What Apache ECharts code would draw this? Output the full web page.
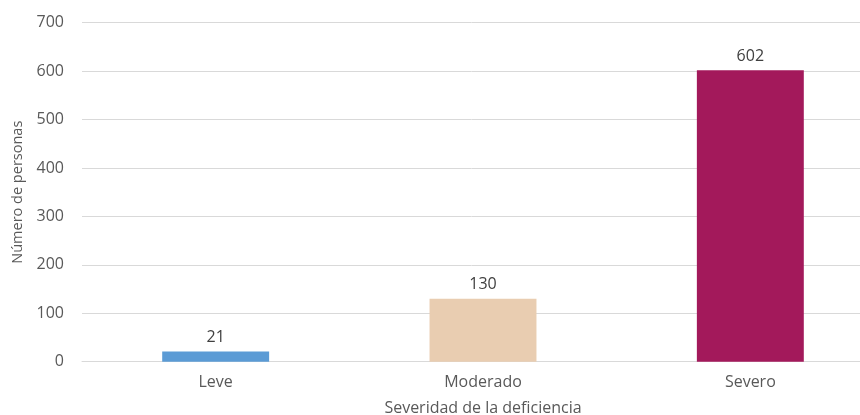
<!DOCTYPE html>
<html><head><meta charset="utf-8">
<script src="https://cdn.jsdelivr.net/npm/echarts@6/dist/echarts.min.js"></script>
<style>html,body{margin:0;padding:0;background:#fff}#c{width:860px;height:415px}</style>
</head><body><div id="c"></div>
<script>
var categories = ['Leve', 'Moderado', 'Severo'];
var values = [21, 130, 602];
var colors = ['#5B9BD5', '#E9CDB1', '#A3195B'];
var yTicks = [0, 100, 200, 300, 400, 500, 600, 700];

var chart = echarts.init(document.getElementById('c'));
var font = 'Open Sans';
var txt = { color: '#595959', fontSize: 16, fontFamily: font };
chart.setOption({
  animation: false,
  grid: { left: 82, right: -24, top: 22.7, bottom: 53.3, containLabel: false, outerBoundsMode: 'none' },
  xAxis: {
    type: 'category', data: categories,
    name: 'Severidad de la deficiencia', nameLocation: 'middle', nameGap: 39,
    nameTextStyle: txt,
    axisLine: { show: true, lineStyle: { color: '#d9d9d9' } },
    axisTick: { show: false },
    axisLabel: Object.assign({ margin: 13 }, txt)
  },
  yAxis: {
    type: 'value', min: yTicks[0], max: yTicks[yTicks.length - 1], interval: 100,
    name: 'Número de personas', nameLocation: 'middle', nameGap: 57,
    nameTextStyle: { color: '#595959', fontSize: 14.5, fontFamily: font },
    axisLine: { show: false }, axisTick: { show: false },
    axisLabel: Object.assign({ margin: 18 }, txt),
    splitLine: { lineStyle: { color: '#d9d9d9' } }
  },
  series: [{
    type: 'bar', barWidth: '40%',
    data: values.map(function (v, i) { return { value: v, itemStyle: { color: colors[i] } }; }),
    label: { show: true, position: 'top', distance: 6, color: '#404040', fontSize: 16, fontFamily: font }
  }]
});
</script></body></html>
